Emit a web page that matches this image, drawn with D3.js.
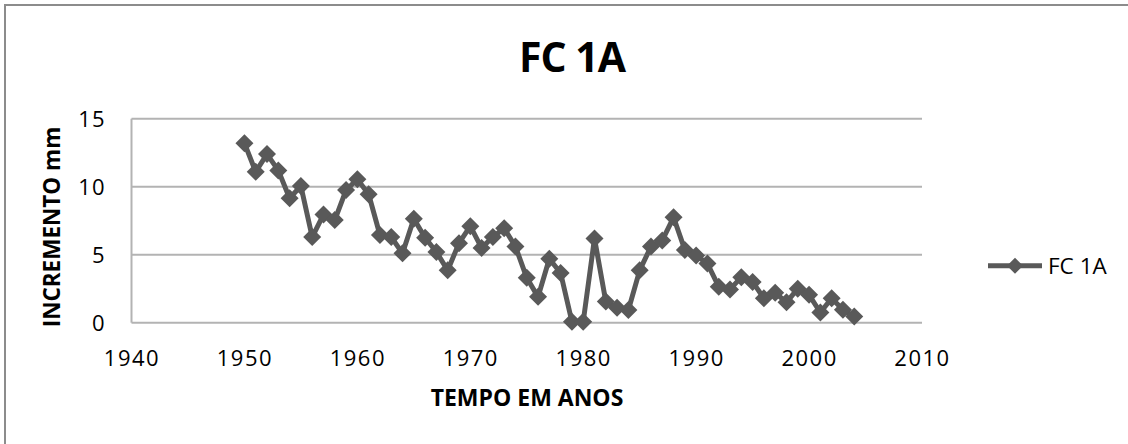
<!DOCTYPE html>
<html><head><meta charset="utf-8">
<script src="https://cdn.jsdelivr.net/npm/d3@7"></script>
<style>body{margin:0;background:#fff}svg{display:block}text{font-family:"Open Sans",sans-serif;fill:#000}</style>
</head><body><svg id="c" width="1128" height="444"></svg>
<script>
const years = [1950,1951,1952,1953,1954,1955,1956,1957,1958,1959,1960,1961,1962,1963,1964,1965,1966,1967,1968,1969,1970,1971,1972,1973,1974,1975,1976,1977,1978,1979,1980,1981,1982,1983,1984,1985,1986,1987,1988,1989,1990,1991,1992,1993,1994,1995,1996,1997,1998,1999,2000,2001,2002,2003,2004];
const values = [13.2,11.1,12.4,11.2,9.15,10.05,6.3,7.95,7.55,9.75,10.55,9.45,6.45,6.3,5.1,7.65,6.25,5.2,3.85,5.85,7.1,5.5,6.3,6.95,5.6,3.3,1.9,4.7,3.65,0.07,0.07,6.2,1.55,1.1,0.93,3.85,5.6,6.05,7.75,5.35,4.95,4.35,2.65,2.45,3.35,3.0,1.8,2.2,1.5,2.5,2.05,0.75,1.8,0.95,0.45];
const xTicks = [1940,1950,1960,1970,1980,1990,2000,2010];
const yTicks = [0,5,10,15];
const seriesName = "FC 1A";
const title = "FC 1A";
const xTitle = "TEMPO EM ANOS";
const yTitle = "INCREMENTO mm";

(function(){
const svg = d3.select("#c");
const W = 1128, H = 444;
const pL = 131.5, pR = 922, pT = 118.7, pB = 322.7;
const x = d3.scaleLinear().domain([1940,2010]).range([pL,pR]);
const y = d3.scaleLinear().domain([0,15]).range([pB,pT]);
const col = "#595959";

svg.append("rect").attr("x",5).attr("y",5).attr("width",W).attr("height",H)
  .attr("fill","none").attr("stroke","#8c8c8c").attr("stroke-width",2);

svg.append("g").selectAll("line").data(yTicks).join("line")
  .attr("x1",pL).attr("x2",pR).attr("y1",d=>y(d)).attr("y2",d=>y(d))
  .attr("stroke","#b3b3b3").attr("stroke-width",2);
svg.append("line").attr("x1",pL).attr("x2",pL).attr("y1",pT).attr("y2",pB)
  .attr("stroke","#b3b3b3").attr("stroke-width",2);

const gx = svg.append("g").attr("transform",`translate(0,${pB})`)
  .call(d3.axisBottom(x).tickValues(xTicks).tickFormat(d3.format("d")).tickSize(0).tickPadding(0));
gx.select(".domain").remove();
gx.selectAll("text").attr("dy",null).attr("y",43).style("font-size","22px").attr("font-family","Open Sans").attr("fill","#000").attr("letter-spacing","1.5");

const gy = svg.append("g").attr("transform",`translate(${pL},0)`)
  .call(d3.axisLeft(y).tickValues(yTicks).tickSize(0).tickPadding(0));
gy.select(".domain").remove();
gy.selectAll("text").attr("x",-26).attr("dy","0.36em").style("font-size","22px").attr("font-family","Open Sans").attr("fill","#000").attr("letter-spacing","1");

const data = years.map((d,i)=>({yr:d,v:values[i]}));
svg.append("path").datum(data)
  .attr("d",d3.line().x(d=>x(d.yr)).y(d=>y(d.v)))
  .attr("fill","none").attr("stroke",col).attr("stroke-width",5).attr("stroke-linejoin","round");
const r = 9;
svg.append("g").selectAll("path").data(data).join("path")
  .attr("d",d=>{const cx=x(d.yr),cy=y(d.v);return `M${cx},${cy-r}L${cx+r},${cy}L${cx},${cy+r}L${cx-r},${cy}Z`;})
  .attr("fill",col);

svg.append("text").attr("x",572).attr("y",72).attr("text-anchor","middle")
  .style("font-size","41px").style("font-weight","bold").attr("letter-spacing","-1").text(title);
svg.append("text").attr("x",527).attr("y",406).attr("text-anchor","middle")
  .style("font-size","23px").style("font-weight","bold").text(xTitle);
svg.append("text").attr("transform","translate(60,227) rotate(-90)").attr("text-anchor","middle")
  .style("font-size","22.5px").style("font-weight","bold").text(yTitle);

const ly = 265.7;
svg.append("line").attr("x1",988).attr("x2",1042).attr("y1",ly).attr("y2",ly).attr("stroke",col).attr("stroke-width",5);
svg.append("path").attr("d",`M1015,${ly-8}L1023,${ly}L1015,${ly+8}L1007,${ly}Z`).attr("fill",col);
svg.append("text").attr("x",1048).attr("y",ly).attr("dy","0.36em").style("font-size","22.5px").text(seriesName);
})();
</script></body></html>
